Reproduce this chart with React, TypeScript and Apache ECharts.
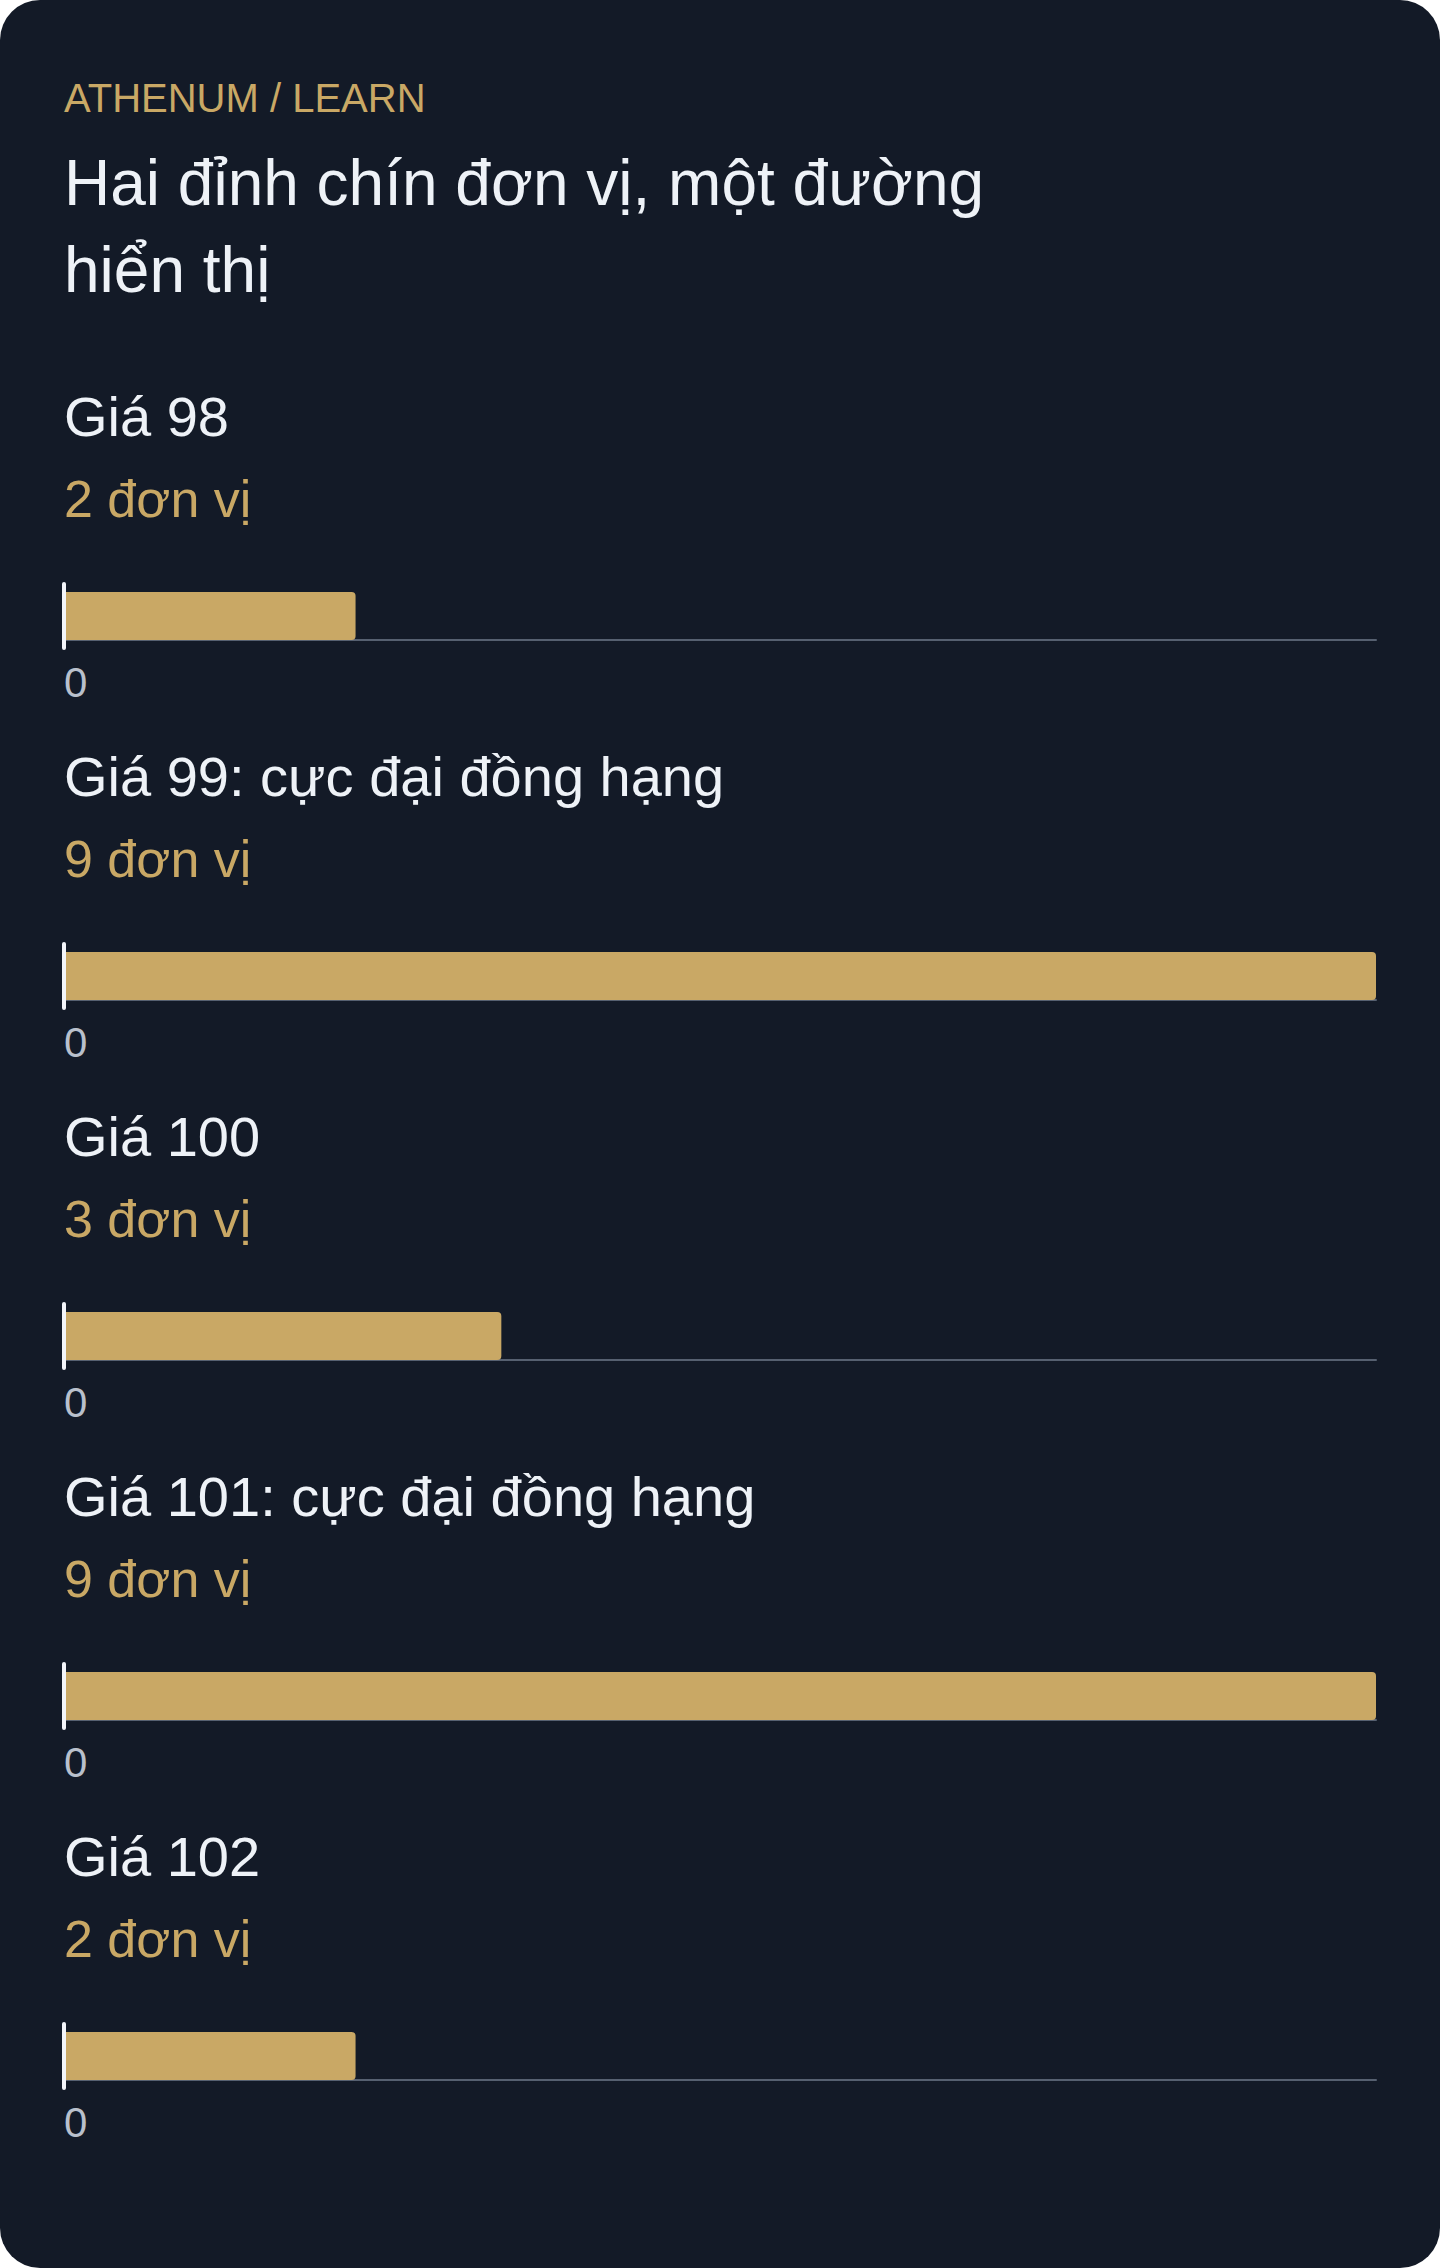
import { useRef, useEffect } from 'react'
import * as echarts from 'echarts'

const prices = ['98', '99', '100', '101', '102']
const units = [2, 9, 3, 9, 2]
const peakNote = ': cực đại đồng hạng'
const unitWord = 'đơn vị'
const eyebrow = 'ATHENUM / LEARN'
const titleLines = ['Hai đỉnh chín đơn vị, một đường', 'hiển thị']

const FONT = '"Liberation Sans", Arial, sans-serif'
const BG = '#131a27'
const GOLD = '#c9a865'
const TEXT = '#eef2f7'
const MUTED = '#b9c0cc'
const AXIS = '#566070'

const BLOCK = 360
const GRID_TOP = 584

export default function App() {
  const chartRef = useRef<HTMLDivElement>(null)

  useEffect(() => {
    document.body.style.margin = '0'
    if (!chartRef.current) return
    const chart = echarts.init(chartRef.current, undefined, { renderer: 'svg' })
    const maxUnits = Math.max(...units)

    const grids = prices.map((_, i) => ({
      left: 64, right: 64, top: GRID_TOP + BLOCK * i, height: 64, containLabel: false,
    }))

    const xAxes = prices.map((_, i) => ({
      type: 'value', gridIndex: i, min: 0, max: maxUnits, interval: maxUnits, offset: -8,
      axisLine: { show: true, lineStyle: { color: AXIS, width: 2 } },
      axisTick: { show: false },
      splitLine: { show: false },
      axisLabel: {
        color: MUTED, fontSize: 42, fontFamily: FONT, margin: 21, align: 'left',
        showMaxLabel: false,
        formatter: (v: number) => (v === 0 ? '0' : ''),
      },
    }))

    const yAxes = prices.map((p, i) => ({
      type: 'category', gridIndex: i, data: [p], z: 10,
      axisLine: { show: true, lineStyle: { color: '#f3f5f9', width: 4 } },
      axisTick: { show: false },
      axisLabel: { show: false },
      splitLine: { show: false },
    }))

    const series = prices.map((p, i) => ({
      type: 'bar', name: `Giá ${p}`, xAxisIndex: i, yAxisIndex: i,
      data: [units[i]], barWidth: 48,
      itemStyle: { color: GOLD, borderRadius: [0, 4, 4, 0] },
    }))

    const texts: any[] = [
      {
        type: 'text', x: 64, y: 98.4,
        style: { text: eyebrow, fill: GOLD, font: `40px ${FONT}`, verticalAlign: 'middle' },
      },
      {
        type: 'text', x: 64, y: 139.3,
        style: { text: titleLines.join('\n'), fill: TEXT, font: `64px ${FONT}`, lineHeight: 87, verticalAlign: 'top' },
      },
    ]
    prices.forEach((p, i) => {
      const off = BLOCK * i
      texts.push({
        type: 'text', x: 64, y: 416.6 + off,
        style: {
          text: `Giá ${p}${units[i] === maxUnits ? peakNote : ''}`,
          fill: TEXT, font: `56px ${FONT}`, verticalAlign: 'middle',
        },
      })
      texts.push({
        type: 'text', x: 64, y: 498.7 + off,
        style: { text: `${units[i]} ${unitWord}`, fill: GOLD, font: `52px ${FONT}`, verticalAlign: 'middle' },
      })
    })

    chart.setOption({
      animation: false,
      backgroundColor: 'transparent',
      grid: grids,
      xAxis: xAxes,
      yAxis: yAxes,
      series,
      graphic: texts,
    })

    return () => chart.dispose()
  }, [])

  return (
    <div style={{ width: 1440, height: 2268, borderRadius: 40, background: BG, overflow: 'hidden' }}>
      <div ref={chartRef} style={{ width: 1440, height: 2268 }} />
    </div>
  )
}
